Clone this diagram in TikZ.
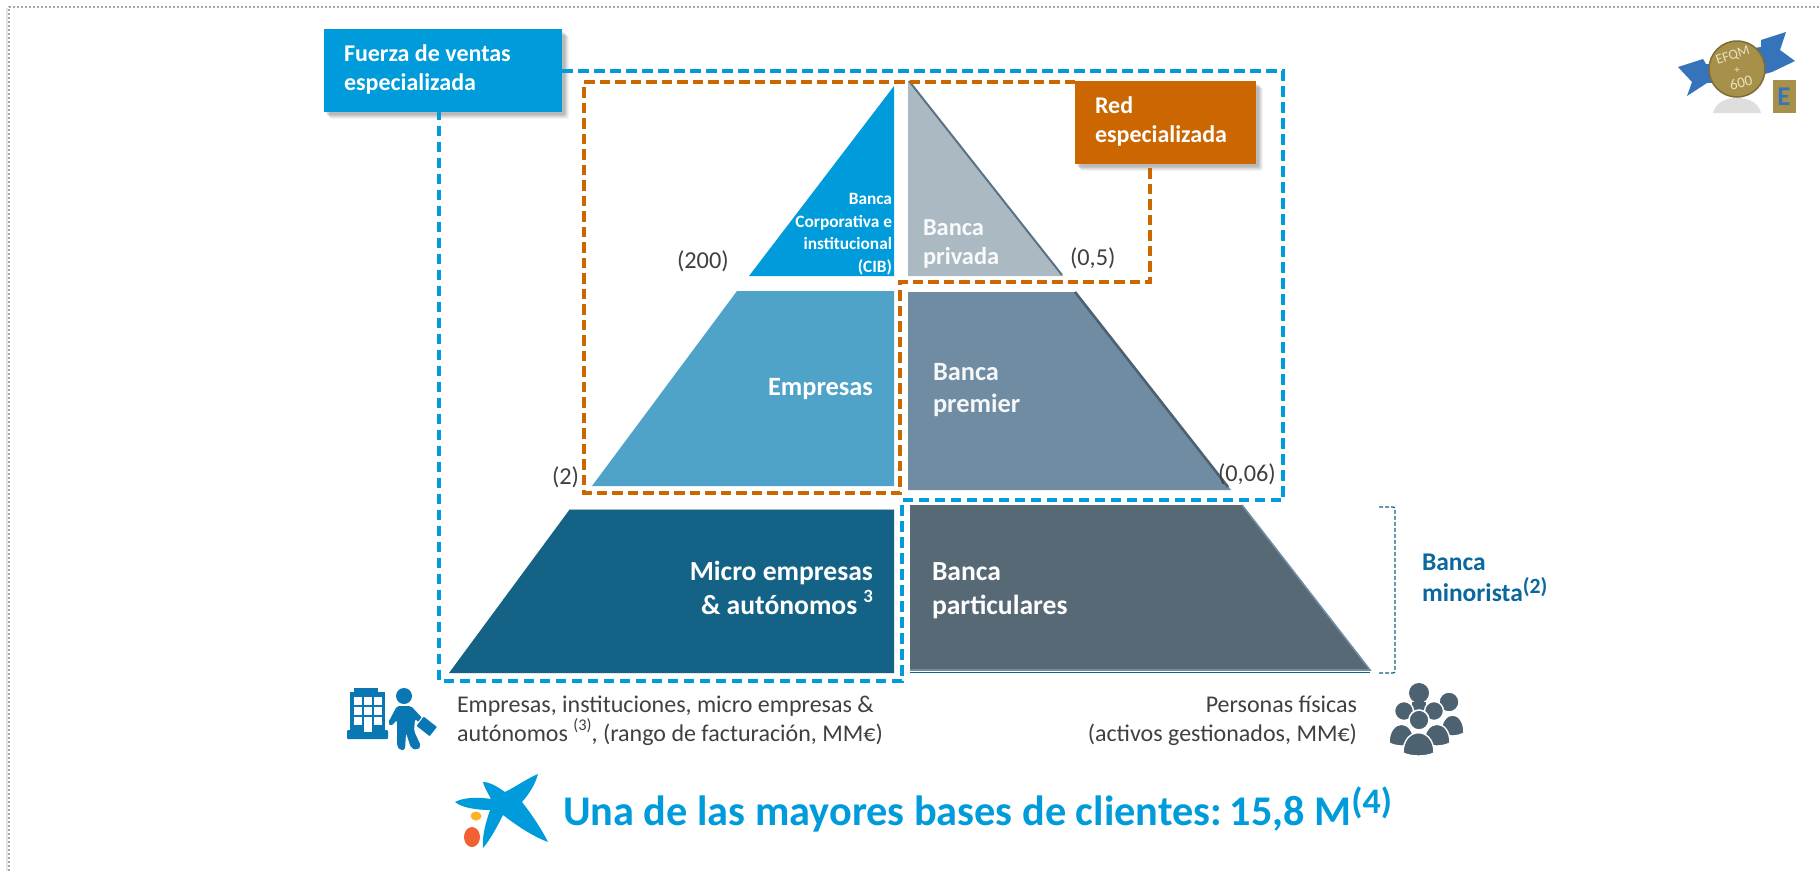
\documentclass[tikz,border=0pt]{standalone}
\usepackage{fontspec}
\setmainfont{Carlito}
\usetikzlibrary{shapes.geometric}
\definecolor{cblue}{HTML}{009BDA}
\definecolor{corange}{HTML}{CB6600}
\definecolor{cemp}{HTML}{50A3C8}
\definecolor{cmicro}{HTML}{146386}
\definecolor{cpriv}{HTML}{ABBAC2}
\definecolor{cprem}{HTML}{708CA3}
\definecolor{cpart}{HTML}{566975}
\definecolor{cedge}{HTML}{5A7285}
\definecolor{cgrey}{HTML}{404040}
\definecolor{cmin}{HTML}{0A689E}
\definecolor{cicon}{HTML}{0A77B5}
\definecolor{cpeople}{HTML}{4C6271}
\definecolor{cgold}{HTML}{A79049}
\definecolor{cribbon}{HTML}{3573BA}
\definecolor{cbadge}{HTML}{E6E2C0}
\definecolor{cdotY}{HTML}{FBB325}
\definecolor{cdotO}{HTML}{F26131}
\newcommand{\supr}[1]{\raisebox{.42em}{\scalebox{.68}{#1}}}
\newcommand{\suprb}[1]{\raisebox{.28em}{\scalebox{.85}{#1}}}
\newcommand{\fsz}[2]{\fontsize{#1}{#2}\selectfont}
\newcommand{\softshadow}[4]{%
  \foreach \o/\p in {7/.04,6/.05,5/.06,4/.07,3/.08}{
    \fill[black,opacity=\p,rounded corners=2] (#1+\o-1,#2+\o) rectangle (#3+\o,#4+\o);}}
% dome-shaped body of a person: left x, right x, top y, bottom y
\newcommand{\dome}[4]{%
  \draw[white,line width=1.4pt,fill=cpeople] (#1,#4-3) .. controls (#1,#3-2) and (#2,#3-2) .. (#2,#4-3) .. controls (#2-8,#4+1) and (#1+8,#4+1) .. (#1,#4-3) -- cycle;}
\tikzset{
  x=1pt,y=-1pt,
  txt/.style={inner sep=0pt,outer sep=0pt,align=left,anchor=base west,text=cgrey},
  txtr/.style={inner sep=0pt,outer sep=0pt,align=right,anchor=base east,text=cgrey},
  softwhite/.style={text=white!93!cprem},
  labelbox/.style={inner sep=0pt,outer sep=0pt,minimum height=83pt,anchor=north west},
  bluedash/.style={draw=cblue,line width=3.2pt,dash pattern=on 10.5pt off 5.5pt},
  orangedash/.style={draw=corange,line width=3.6pt,dash pattern=on 10.5pt off 5pt},
  valuelabel/.style={txt,font=\fsz{24.3}{26}},
  captiontext/.style={font=\fsz{24}{29}},
  badgetext/.style={inner sep=0pt,text=cbadge},
}
\begin{document}
\begin{tikzpicture}
\useasboundingbox (0,0) rectangle (1820,871);
\fill[white] (0,0) rectangle (1820,871);
% page frame
\draw[black!10,line width=1.5pt] (7,8) -- (7,871);
\draw[color=black!30!cprem!55,line width=2pt,dash pattern=on 2pt off 2pt] (9,871) -- (9,7) -- (1820,7);

% pyramid, left
\fill[cblue] (894,86) -- (894,276) -- (749,276) -- cycle;
\fill[cemp] (737,291) -- (894,291) -- (894,486) -- (592,486) -- cycle;
\fill[cmicro] (570,509) -- (894,509) -- (894,673) -- (449,673) -- cycle;
\draw[cpriv,line width=1pt] (570,509) -- (894,509);
% pyramid, right
\fill[cpriv] (908,81) -- (1063,276) -- (908,276) -- cycle;
\draw[cedge,line width=2pt] (909,81) -- (1062,275);
\fill[cprem] (908,292) -- (1075,292) -- (1231,490) -- (908,490) -- cycle;
\draw[cedge!85!black,line width=2.6pt] (1075,292) -- (1228,487);
\fill[cpart] (910,505) -- (1242,505) -- (1370,670) -- (910,670) -- cycle;
\draw[cprem,line width=1.6pt] (1242,505) -- (1370,670) -- (910,670);
\draw[cmicro,line width=1.6pt] (910,672.5) -- (1370,672.5);

\coordinate (bTopRight) at (1283,71);
\coordinate (bBotRight) at (1283,500);
\coordinate (bMidBot) at (902,500);
\coordinate (bMidLow) at (902,681);
\coordinate (bLeftLow) at (439,681);
\coordinate (oTopLeft) at (584,82);
\coordinate (oBotLeft) at (584,493);
\coordinate (oBotMid) at (900,493);
\coordinate (oMidUp) at (900,282);
\coordinate (oRightLow) at (1150,282);

\softshadow{324}{29}{562}{112}
\softshadow{1075}{81}{1256}{164}
\node[labelbox,fill=cblue,minimum width=238pt] (fuerza) at (324,29) {};
\node[labelbox,fill=corange,minimum width=181pt] (red) at (1075,81) {};

\draw[bluedash] (fuerza.east |- bTopRight) -- (bTopRight) -- (bBotRight) -- (bMidBot) -- (bMidLow) -- (bLeftLow) -- (bLeftLow |- fuerza.south);
\draw[orangedash] (red.west |- oTopLeft) -- (oTopLeft) -- (oBotLeft) -- (oBotMid) -- (oMidUp) -- (oRightLow) -- (oRightLow |- red.south);

\node[txt,text=white,font=\fsz{24}{29}\bfseries] (tfuerza) at (344,90) {Fuerza de ventas\\especializada};
\node[txt,text=white,font=\fsz{24}{29}\bfseries] (tred) at (1095,142) {Red\\especializada};

% pyramid texts
\node[txtr,text=white,font=\fsz{17.3}{22.5}\bfseries] (tcib) at (892,272) {Banca\\Corporativa e\\institucional\\(CIB)};
\node[txt,text=white!93!cpriv,font=\fsz{24.4}{29}\bfseries] (tpriv) at (923,264) {Banca\\privada};
\node[txtr,text=white,font=\fsz{26.4}{33}\bfseries] (temp) at (873,395) {Empresas};
\node[txt,softwhite,font=\fsz{26.4}{32}\bfseries] (tprem) at (933,412) {Banca\\premier};
\node[txtr,text=white,font=\fsz{27.6}{34}\bfseries] (tmicro) at (873,614) {Micro empresas\\\& autónomos \supr{3}};
\node[txt,text=white,font=\fsz{27.6}{34}\bfseries] (tpart) at (932,614) {Banca\\particulares};

% values
\node[valuelabel] (v200) at (677,268) {(200)};
\node[valuelabel] (v05) at (1070,265) {(0,5)};
\node[valuelabel] (v006) at (1218,481) {(0,06)};
\node[valuelabel] (v2) at (552,484) {(2)};

% bracket
\coordinate (brA) at (1379,507);
\coordinate (brB) at (1395,507);
\coordinate (brC) at (1395,673);
\coordinate (brD) at (1379,673);
\draw[cmicro,line width=1.3pt,dash pattern=on 4pt off 2pt,rounded corners=2pt] (brA) -- (brB) -- (brC) -- (brD);
\node[txt,text=cmin,font=\fsz{25.5}{31}\bfseries] (tmin) at (1422,601) {Banca\\minorista\suprb{(2)}};

% captions
\node[txt,captiontext] (tcapl) at (457,741) {Empresas, instituciones, micro empresas \&\\autónomos \supr{(3)}, (rango de facturación, MM€)};
\node[txtr,captiontext] (tcapr) at (1357,741) {Personas físicas\\(activos gestionados, MM€)};
\node[txt,text=cblue,font=\fsz{42.3}{44}\bfseries] (ttitle) at (563,825) {Una de las mayores bases de clientes:\kern-5pt{} 15,8 M\suprb{(4)}};

% building + person icon
\fill[cicon,rounded corners=1] (347,730) rectangle (388,739);
\fill[cicon] (350,692) rectangle (385,731);
\fill[cicon] (354,688) rectangle (378,693);
\foreach \xa in {354,364,374}{\foreach \ya in {697,707,717}{\fill[white] (\xa,\ya) rectangle +(8,8);}}
\fill[white] (364,717) rectangle (372,732);
\fill[cicon] (404,696) circle (8);
\fill[cicon,rounded corners=2] (397,706) -- (411,706) -- (424,720) -- (421,724) -- (415,719) -- (414,731) -- (421,746) -- (417,750) -- (411,748) -- (406,733) -- (405,750) -- (400,750) -- (397,746) -- (397,720) -- (391,726) -- (388,723) -- cycle;
\draw[white,line width=1pt,fill=cicon,rounded corners=1,rotate around={-38:(427,726)}] (418,720) rectangle (436,733);

% logo
\fill[cblue] (483,782) .. controls (490,782) and (498,787) .. (505,792)
  .. controls (517,786) and (528,778) .. (538,774)
  .. controls (535,785) and (529,794) .. (522,802)
  .. controls (533,816) and (542,830) .. (548,842)
  .. controls (532,836) and (516,825) .. (503,815)
  .. controls (497,827) and (490,840) .. (483,848)
  .. controls (482,835) and (486,822) .. (490,810)
  .. controls (478,810) and (462,808) .. (455,802)
  .. controls (464,797) and (480,797) .. (491,799)
  .. controls (488,793) and (484,787) .. (483,782) -- cycle;
\fill[cdotY] (476,816) ellipse [x radius=5.5,y radius=4.5];
\fill[cdotO] (472,837) ellipse [x radius=8,y radius=10];

% people icon
\fill[cpeople] (1419,693) circle (10);
\fill[cpeople] (1412,702) rectangle (1426,712);
\dome{1441}{1464}{711}{736}
\draw[white,line width=1.4pt,fill=cpeople] (1449,702) circle (10);
\dome{1424}{1450}{720}{746}
\draw[white,line width=1.4pt,fill=cpeople] (1434,711) circle (9.5);
\dome{1389}{1414}{720}{746}
\draw[white,line width=1.4pt,fill=cpeople] (1404,711) circle (9.5);
\dome{1403}{1434}{728}{756}
\draw[white,line width=1.6pt,fill=cpeople] (1419,720) circle (10);

% EFQM badge
\fill[black!13] (1713,113) .. controls (1716,102) and (1726,98) .. (1737,98) .. controls (1748,98) and (1758,102) .. (1761,113) -- cycle;
\fill[cribbon] (1678,67) -- (1703,59) -- (1706,64) -- (1730,65) -- (1730,82) -- (1707,83) -- (1687,96) -- (1692,82) -- cycle;
\fill[cribbon] (1740,50) -- (1761,47) -- (1761,40) -- (1786,32) -- (1780,50) -- (1795,61) -- (1772,72) -- (1750,78) -- cycle;
\draw[cgold!75!black,line width=1.5pt,fill=cgold] (1737,69) circle (28);
\node[badgetext,font=\fsz{14}{14},rotate=18] (tefqm) at (1733,56) {EFQM};
\node[badgetext,font=\fsz{11}{11}] (tplus) at (1737,70) {+};
\node[badgetext,font=\fsz{15}{15},rotate=14] (t600) at (1741,83) {600};
\fill[cgold] (1773,80) rectangle (1796,113);
\node[inner sep=0pt,text=cribbon,font=\fsz{27}{27}\bfseries] (tE) at (1784,97) {E};
\end{tikzpicture}
\end{document}
